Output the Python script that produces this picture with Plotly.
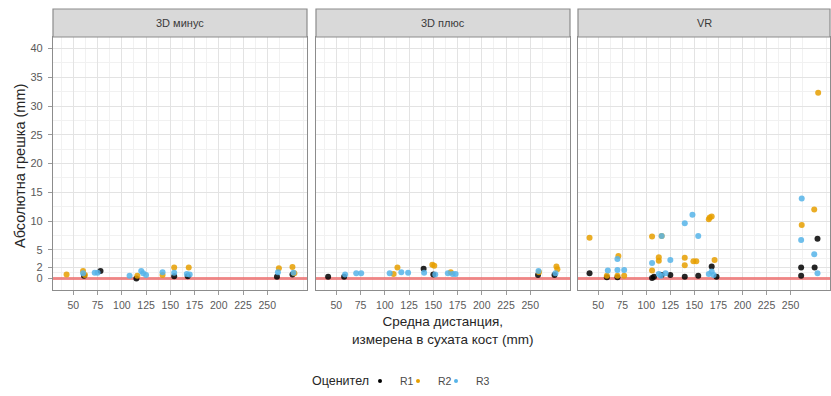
import plotly.graph_objects as go

# ---------------- data ----------------
panels = ["3D минус", "3D плюс", "VR"]
raters = ["R1", "R2", "R3"]
rater_colors = {"R1": "#000000", "R2": "#E69F00", "R3": "#56B4E9"}

# 3D минус
m_r1_x = [61, 78, 115, 154, 168, 260, 276]
m_r1_y = [0.5, 1.3, 0.0, 0.4, 0.4, 0.3, 0.7]
m_r2_x = [43, 60, 62, 116, 142, 154, 169, 262, 276, 278]
m_r2_y = [0.7, 1.3, 0.6, 0.5, 0.6, 1.9, 1.9, 1.8, 2.0, 0.9]
m_r3_x = [60, 72, 75, 108, 120, 122, 125, 142, 154, 167, 170, 261, 277]
m_r3_y = [0.9, 1.0, 1.0, 0.5, 1.3, 0.9, 0.6, 1.1, 1.0, 0.8, 0.7, 1.1, 1.0]

# 3D плюс
p_r1_x = [41.5, 58, 140, 150, 258, 275]
p_r1_y = [0.3, 0.3, 1.7, 0.7, 0.6, 0.6]
p_r2_x = [109, 113, 149, 151, 168, 259, 277, 278]
p_r2_y = [0.8, 1.9, 2.4, 2.2, 1.1, 1.1, 2.1, 1.6]
p_r3_x = [59, 70.5, 75.6, 105, 117, 124, 140.5, 152, 165, 170, 173, 258.5, 276]
p_r3_y = [0.7, 0.9, 0.9, 0.9, 1.1, 1.0, 1.0, 0.7, 0.9, 0.8, 0.8, 1.3, 0.9]

# VR
v_r1_x = [41, 59, 70, 106, 108, 116, 125, 140, 154, 168, 173, 261, 261, 275, 278]
v_r1_y = [0.9, 0.2, 0.2, 0.1, 0.3, 0.6, 0.6, 0.3, 0.5, 2.1, 0.3, 1.9, 0.5, 1.9, 6.9]
v_r2_x = [41, 59, 70, 71, 77, 106, 106, 113, 113, 116, 140, 140, 149, 152,
          165, 166, 168, 171, 261.6, 274.6, 278.7]
v_r2_y = [7.1, 0.5, 0.5, 3.9, 0.5, 7.3, 1.4, 3.7, 3.1, 7.4, 3.6, 2.3, 3.0, 3.0,
          10.3, 10.6, 10.8, 3.2, 9.3, 12.0, 32.3]
v_r3_x = [60, 70, 70, 77, 106, 113, 115, 116, 120, 125, 140, 148, 154, 165,
          168, 170, 261, 261.6, 274.6, 278]
v_r3_y = [1.4, 1.5, 3.4, 1.5, 2.7, 0.8, 0.5, 7.4, 0.9, 3.2, 9.6, 11.1, 7.4, 0.8,
          1.2, 0.6, 6.7, 13.9, 4.2, 0.9]

series = {
    "3D минус": {"R1": (m_r1_x, m_r1_y), "R2": (m_r2_x, m_r2_y), "R3": (m_r3_x, m_r3_y)},
    "3D плюс": {"R1": (p_r1_x, p_r1_y), "R2": (p_r2_x, p_r2_y), "R3": (p_r3_x, p_r3_y)},
    "VR": {"R1": (v_r1_x, v_r1_y), "R2": (v_r2_x, v_r2_y), "R3": (v_r3_x, v_r3_y)},
}

x_ticks = [50, 75, 100, 125, 150, 175, 200, 225, 250]
x_minor = [37.5, 62.5, 87.5, 112.5, 137.5, 162.5, 187.5, 212.5, 237.5, 262.5, 287.5]
y_ticks = [0, 2, 5, 10, 15, 20, 25, 30, 35, 40]
y_minor = [1, 3.5, 7.5, 12.5, 17.5, 22.5, 27.5, 32.5, 37.5]
x_range = [29, 291]
y_range = [-2, 42]
ref_error = 0  # horizontal reference line (zero error)

# ---------------- layout geometry ----------------
W, H = 831, 396
ML, MR, MT, MB = 53, 1, 37, 106
PW = W - ML - MR
PH = H - MT - MB
panel_px = [(0, 254), (263, 517), (525, PW)]
domains = [[a / PW, b / PW] for a, b in panel_px]


def px_x(px):
    return (px - ML) / PW


def px_y(py):
    return ((MT + PH) - py) / PH


FONT = "Liberation Sans, Arial, sans-serif"
GRID = "#E3E3E3"
MINOR = "#F1F1F1"
BORDER = "#8C8C8C"

fig = go.Figure()

legend_ids = {"R1": "legend", "R2": "legend2", "R3": "legend3"}

for i, panel in enumerate(panels):
    xa = "x" if i == 0 else f"x{i+1}"
    ya = "y" if i == 0 else f"y{i+1}"
    # zero-error reference line (drawn first so points sit on top)
    fig.add_trace(go.Scatter(
        x=x_range, y=[ref_error, ref_error], mode="lines", xaxis=xa, yaxis=ya,
        line=dict(color="rgba(238,95,95,0.7)", width=2.8),
        showlegend=False, hoverinfo="skip"))
    for r in raters:
        xs, ys = series[panel][r]
        fig.add_trace(go.Scatter(
            x=xs, y=ys, mode="markers", xaxis=xa, yaxis=ya,
            marker=dict(color=rater_colors[r], size=6, opacity=0.85),
            showlegend=False, name=r, hoverinfo="x+y+name"))

# legend-only traces (small markers), one legend per rater for tight spacing
for r in raters:
    fig.add_trace(go.Scatter(x=[None], y=[None], mode="markers", name=r,
                             marker=dict(color=rater_colors[r], size=4),
                             xaxis="x", yaxis="y", showlegend=True,
                             legend=legend_ids[r]))

axis_common = dict(
    range=x_range, tickvals=x_ticks, ticktext=[str(t) for t in x_ticks],
    showgrid=True, gridcolor=GRID, gridwidth=1,
    minor=dict(tickvals=x_minor, showgrid=True, gridcolor=MINOR, gridwidth=0.6),
    zeroline=False, showline=True, linecolor=BORDER, linewidth=1.2, mirror=True,
    ticks="outside", ticklen=4, tickcolor="#9A9A9A", ticklabelstandoff=1,
    tickfont=dict(family=FONT, size=10.5, color="#5A5A5A"),
)
yaxis_common = dict(
    range=y_range, tickvals=y_ticks, ticktext=[str(t) for t in y_ticks],
    showgrid=True, gridcolor=GRID, gridwidth=1,
    minor=dict(tickvals=y_minor, showgrid=True, gridcolor=MINOR, gridwidth=0.6),
    zeroline=False, showline=True, linecolor=BORDER, linewidth=1.2, mirror=True,
    ticks="outside", ticklen=4, tickcolor="#9A9A9A", ticklabelstandoff=3,
    tickfont=dict(family=FONT, size=11, color="#5A5A5A"),
)

layout_axes = {}
for i in range(3):
    xkey = "xaxis" if i == 0 else f"xaxis{i+1}"
    ykey = "yaxis" if i == 0 else f"yaxis{i+1}"
    xa = dict(axis_common, domain=domains[i], anchor="y" if i == 0 else f"y{i+1}")
    ya = dict(yaxis_common, domain=[0, 1], anchor="x" if i == 0 else f"x{i+1}")
    if i > 0:
        ya["showticklabels"] = False
        ya["ticks"] = ""
        ya["matches"] = "y"
    layout_axes[xkey] = xa
    layout_axes[ykey] = ya

fig.update_layout(**layout_axes)

# strips
strip_top = 1 + 28 / PH
for i, panel in enumerate(panels):
    d0, d1 = domains[i]
    fig.add_shape(type="rect", xref="paper", yref="paper", x0=d0, x1=d1, y0=1, y1=strip_top,
                  fillcolor="#D9D9D9", line=dict(color=BORDER, width=1.2), layer="above")
    fig.add_annotation(x=(d0 + d1) / 2, y=(1 + strip_top) / 2, xref="paper", yref="paper",
                       text=panel, showarrow=False, xanchor="center", yanchor="middle",
                       font=dict(family=FONT, size=11, color="#3A3A3A"))

# axis titles
mid = (domains[1][0] + domains[1][1]) / 2
fig.add_annotation(x=mid, y=px_y(330), xref="paper", yref="paper",
                   text="Средна дистанция,<br>измерена в сухата кост (mm)",
                   showarrow=False, xanchor="center", yanchor="middle",
                   font=dict(family=FONT, size=13.5, color="#262626"))
fig.add_annotation(x=px_x(20), y=px_y(166), xref="paper", yref="paper",
                   text="Абсолютна грешка (mm)", textangle=-90,
                   showarrow=False, xanchor="center", yanchor="middle",
                   font=dict(family=FONT, size=14.5, color="#262626"))

# legend title
fig.add_annotation(x=px_x(310), y=px_y(381), xref="paper", yref="paper",
                   text="Оценител", showarrow=False, xanchor="left", yanchor="middle",
                   font=dict(family=FONT, size=12.5, color="#262626"))

leg_font = dict(family=FONT, size=10.5, color="#4A4A4A")
leg_common = dict(orientation="h", xanchor="left", yanchor="middle", y=px_y(381),
                  font=leg_font, itemwidth=30, bgcolor="rgba(0,0,0,0)",
                  borderwidth=0)

fig.update_layout(
    width=W, height=H,
    margin=dict(l=ML, r=MR, t=MT, b=MB, autoexpand=False),
    paper_bgcolor="white", plot_bgcolor="white",
    font=dict(family=FONT),
    legend=dict(leg_common, x=px_x(360)),
    legend2=dict(leg_common, x=px_x(398)),
    legend3=dict(leg_common, x=px_x(436)),
)

fig.write_html("out.html", config={"displayModeBar": False},
               post_script="document.body.style.margin='0';")
